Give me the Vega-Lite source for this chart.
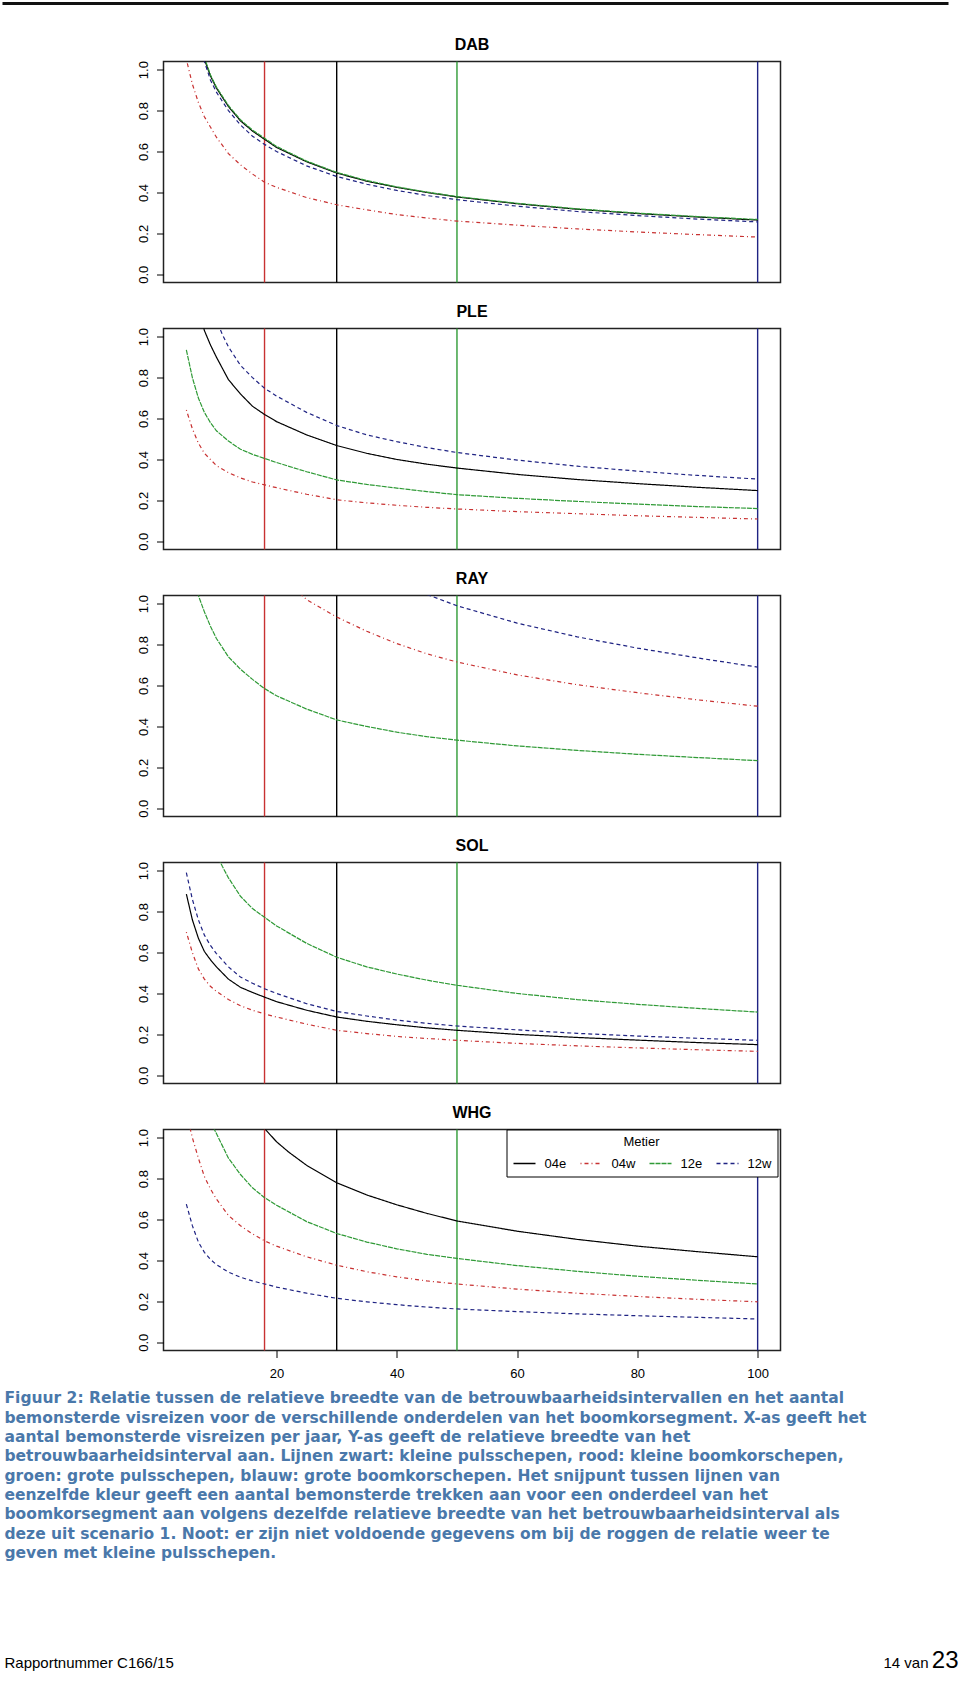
{
"$schema": "https://vega.github.io/schema/vega-lite/v6.json",
"padding": {"left": 0.5, "top": 1.5, "right": 0, "bottom": 2},
"background": "white",
"config": {
 "font": "Liberation Sans",
 "view": {"stroke": "#222", "strokeWidth": 1.5},
 "axis": {"grid": false, "domain": false, "tickColor": "#000", "tickSize": 7, "labelColor": "#000", "labelFontSize": 13, "labelFont": "Liberation Sans", "title": null},
 "title": {"fontSize": 16, "fontWeight": "bold", "font": "Liberation Sans", "color": "#000", "anchor": "middle", "frame": "group", "offset": 8, "baseline": "alphabetic"}
},
"datasets": {
 "vlines": [{"metier":"04e","n":30},{"metier":"04w","n":18},{"metier":"12e","n":50},{"metier":"12w","n":100}],
 "caption": [
  {"line":1,"text":"Figuur 2: Relatie tussen de relatieve breedte van de betrouwbaarheidsintervallen en het aantal"},
  {"line":2,"text":"bemonsterde visreizen voor de verschillende onderdelen van het boomkorsegment. X-as geeft het"},
  {"line":3,"text":"aantal bemonsterde visreizen per jaar, Y-as geeft de relatieve breedte van het"},
  {"line":4,"text":"betrouwbaarheidsinterval aan. Lijnen zwart: kleine pulsschepen, rood: kleine boomkorschepen,"},
  {"line":5,"text":"groen: grote pulsschepen, blauw: grote boomkorschepen. Het snijpunt tussen lijnen van"},
  {"line":6,"text":"eenzelfde kleur geeft een aantal bemonsterde trekken aan voor een onderdeel van het"},
  {"line":7,"text":"boomkorsegment aan volgens dezelfde relatieve breedte van het betrouwbaarheidsinterval als"},
  {"line":8,"text":"deze uit scenario 1. Noot: er zijn niet voldoende gegevens om bij de roggen de relatie weer te"},
  {"line":9,"text":"geven met kleine pulsschepen."}
 ],
 "footer": [{"part":"report","text":"Rapportnummer C166/15"},{"part":"page","text":"14 van"},{"part":"total","text":"23"}],
 "curves": [
  {"panel":"DAB","metier":"04e","n":7,"w":1.17},{"panel":"DAB","metier":"04e","n":8,"w":1.05},{"panel":"DAB","metier":"04e","n":9,"w":0.97},{"panel":"DAB","metier":"04e","n":10,"w":0.91},{"panel":"DAB","metier":"04e","n":12,"w":0.82},{"panel":"DAB","metier":"04e","n":14,"w":0.75},{"panel":"DAB","metier":"04e","n":16,"w":0.70},{"panel":"DAB","metier":"04e","n":18,"w":0.66},{"panel":"DAB","metier":"04e","n":20,"w":0.62},{"panel":"DAB","metier":"04e","n":25,"w":0.55},{"panel":"DAB","metier":"04e","n":30,"w":0.495},{"panel":"DAB","metier":"04e","n":35,"w":0.455},{"panel":"DAB","metier":"04e","n":40,"w":0.425},{"panel":"DAB","metier":"04e","n":45,"w":0.40},{"panel":"DAB","metier":"04e","n":50,"w":0.378},{"panel":"DAB","metier":"04e","n":60,"w":0.345},{"panel":"DAB","metier":"04e","n":70,"w":0.318},{"panel":"DAB","metier":"04e","n":80,"w":0.297},{"panel":"DAB","metier":"04e","n":90,"w":0.28},{"panel":"DAB","metier":"04e","n":100,"w":0.265},
  {"panel":"DAB","metier":"12e","n":7,"w":1.18},{"panel":"DAB","metier":"12e","n":8,"w":1.06},{"panel":"DAB","metier":"12e","n":9,"w":0.975},{"panel":"DAB","metier":"12e","n":10,"w":0.915},{"panel":"DAB","metier":"12e","n":12,"w":0.825},{"panel":"DAB","metier":"12e","n":14,"w":0.755},{"panel":"DAB","metier":"12e","n":16,"w":0.705},{"panel":"DAB","metier":"12e","n":18,"w":0.665},{"panel":"DAB","metier":"12e","n":20,"w":0.625},{"panel":"DAB","metier":"12e","n":25,"w":0.553},{"panel":"DAB","metier":"12e","n":30,"w":0.498},{"panel":"DAB","metier":"12e","n":35,"w":0.458},{"panel":"DAB","metier":"12e","n":40,"w":0.427},{"panel":"DAB","metier":"12e","n":45,"w":0.402},{"panel":"DAB","metier":"12e","n":50,"w":0.38},{"panel":"DAB","metier":"12e","n":60,"w":0.347},{"panel":"DAB","metier":"12e","n":70,"w":0.32},{"panel":"DAB","metier":"12e","n":80,"w":0.299},{"panel":"DAB","metier":"12e","n":90,"w":0.282},{"panel":"DAB","metier":"12e","n":100,"w":0.268},
  {"panel":"DAB","metier":"12w","n":7,"w":1.15},{"panel":"DAB","metier":"12w","n":8,"w":1.04},{"panel":"DAB","metier":"12w","n":9,"w":0.95},{"panel":"DAB","metier":"12w","n":10,"w":0.89},{"panel":"DAB","metier":"12w","n":12,"w":0.80},{"panel":"DAB","metier":"12w","n":14,"w":0.73},{"panel":"DAB","metier":"12w","n":16,"w":0.675},{"panel":"DAB","metier":"12w","n":18,"w":0.635},{"panel":"DAB","metier":"12w","n":20,"w":0.60},{"panel":"DAB","metier":"12w","n":25,"w":0.53},{"panel":"DAB","metier":"12w","n":30,"w":0.478},{"panel":"DAB","metier":"12w","n":35,"w":0.44},{"panel":"DAB","metier":"12w","n":40,"w":0.41},{"panel":"DAB","metier":"12w","n":45,"w":0.385},{"panel":"DAB","metier":"12w","n":50,"w":0.365},{"panel":"DAB","metier":"12w","n":60,"w":0.333},{"panel":"DAB","metier":"12w","n":70,"w":0.307},{"panel":"DAB","metier":"12w","n":80,"w":0.287},{"panel":"DAB","metier":"12w","n":90,"w":0.27},{"panel":"DAB","metier":"12w","n":100,"w":0.256},
  {"panel":"DAB","metier":"04w","n":5,"w":1.05},{"panel":"DAB","metier":"04w","n":6,"w":0.93},{"panel":"DAB","metier":"04w","n":7,"w":0.84},{"panel":"DAB","metier":"04w","n":8,"w":0.77},{"panel":"DAB","metier":"04w","n":9,"w":0.72},{"panel":"DAB","metier":"04w","n":10,"w":0.67},{"panel":"DAB","metier":"04w","n":12,"w":0.59},{"panel":"DAB","metier":"04w","n":14,"w":0.535},{"panel":"DAB","metier":"04w","n":16,"w":0.49},{"panel":"DAB","metier":"04w","n":18,"w":0.45},{"panel":"DAB","metier":"04w","n":20,"w":0.425},{"panel":"DAB","metier":"04w","n":25,"w":0.375},{"panel":"DAB","metier":"04w","n":30,"w":0.34},{"panel":"DAB","metier":"04w","n":35,"w":0.315},{"panel":"DAB","metier":"04w","n":40,"w":0.292},{"panel":"DAB","metier":"04w","n":45,"w":0.275},{"panel":"DAB","metier":"04w","n":50,"w":0.26},{"panel":"DAB","metier":"04w","n":60,"w":0.24},{"panel":"DAB","metier":"04w","n":70,"w":0.222},{"panel":"DAB","metier":"04w","n":80,"w":0.207},{"panel":"DAB","metier":"04w","n":90,"w":0.194},{"panel":"DAB","metier":"04w","n":100,"w":0.182},

  {"panel":"PLE","metier":"04e","n":7,"w":1.15},{"panel":"PLE","metier":"04e","n":8,"w":1.03},{"panel":"PLE","metier":"04e","n":9,"w":0.96},{"panel":"PLE","metier":"04e","n":10,"w":0.90},{"panel":"PLE","metier":"04e","n":12,"w":0.79},{"panel":"PLE","metier":"04e","n":14,"w":0.72},{"panel":"PLE","metier":"04e","n":16,"w":0.66},{"panel":"PLE","metier":"04e","n":18,"w":0.62},{"panel":"PLE","metier":"04e","n":20,"w":0.585},{"panel":"PLE","metier":"04e","n":25,"w":0.52},{"panel":"PLE","metier":"04e","n":30,"w":0.468},{"panel":"PLE","metier":"04e","n":35,"w":0.43},{"panel":"PLE","metier":"04e","n":40,"w":0.40},{"panel":"PLE","metier":"04e","n":45,"w":0.377},{"panel":"PLE","metier":"04e","n":50,"w":0.358},{"panel":"PLE","metier":"04e","n":60,"w":0.327},{"panel":"PLE","metier":"04e","n":70,"w":0.302},{"panel":"PLE","metier":"04e","n":80,"w":0.282},{"panel":"PLE","metier":"04e","n":90,"w":0.264},{"panel":"PLE","metier":"04e","n":100,"w":0.248},
  {"panel":"PLE","metier":"12w","n":9,"w":1.16},{"panel":"PLE","metier":"12w","n":10,"w":1.08},{"panel":"PLE","metier":"12w","n":11,"w":1.01},{"panel":"PLE","metier":"12w","n":12,"w":0.95},{"panel":"PLE","metier":"12w","n":14,"w":0.86},{"panel":"PLE","metier":"12w","n":16,"w":0.80},{"panel":"PLE","metier":"12w","n":18,"w":0.748},{"panel":"PLE","metier":"12w","n":20,"w":0.71},{"panel":"PLE","metier":"12w","n":25,"w":0.63},{"panel":"PLE","metier":"12w","n":30,"w":0.566},{"panel":"PLE","metier":"12w","n":35,"w":0.52},{"panel":"PLE","metier":"12w","n":40,"w":0.487},{"panel":"PLE","metier":"12w","n":45,"w":0.458},{"panel":"PLE","metier":"12w","n":50,"w":0.434},{"panel":"PLE","metier":"12w","n":60,"w":0.397},{"panel":"PLE","metier":"12w","n":70,"w":0.367},{"panel":"PLE","metier":"12w","n":80,"w":0.343},{"panel":"PLE","metier":"12w","n":90,"w":0.322},{"panel":"PLE","metier":"12w","n":100,"w":0.304},
  {"panel":"PLE","metier":"12e","n":5,"w":0.935},{"panel":"PLE","metier":"12e","n":6,"w":0.80},{"panel":"PLE","metier":"12e","n":7,"w":0.70},{"panel":"PLE","metier":"12e","n":8,"w":0.63},{"panel":"PLE","metier":"12e","n":9,"w":0.58},{"panel":"PLE","metier":"12e","n":10,"w":0.54},{"panel":"PLE","metier":"12e","n":12,"w":0.49},{"panel":"PLE","metier":"12e","n":14,"w":0.45},{"panel":"PLE","metier":"12e","n":16,"w":0.425},{"panel":"PLE","metier":"12e","n":18,"w":0.405},{"panel":"PLE","metier":"12e","n":20,"w":0.385},{"panel":"PLE","metier":"12e","n":25,"w":0.34},{"panel":"PLE","metier":"12e","n":30,"w":0.30},{"panel":"PLE","metier":"12e","n":35,"w":0.278},{"panel":"PLE","metier":"12e","n":40,"w":0.26},{"panel":"PLE","metier":"12e","n":45,"w":0.243},{"panel":"PLE","metier":"12e","n":50,"w":0.228},{"panel":"PLE","metier":"12e","n":60,"w":0.21},{"panel":"PLE","metier":"12e","n":70,"w":0.195},{"panel":"PLE","metier":"12e","n":80,"w":0.182},{"panel":"PLE","metier":"12e","n":90,"w":0.17},{"panel":"PLE","metier":"12e","n":100,"w":0.16},
  {"panel":"PLE","metier":"04w","n":5,"w":0.642},{"panel":"PLE","metier":"04w","n":6,"w":0.55},{"panel":"PLE","metier":"04w","n":7,"w":0.48},{"panel":"PLE","metier":"04w","n":8,"w":0.43},{"panel":"PLE","metier":"04w","n":9,"w":0.40},{"panel":"PLE","metier":"04w","n":10,"w":0.37},{"panel":"PLE","metier":"04w","n":12,"w":0.335},{"panel":"PLE","metier":"04w","n":14,"w":0.31},{"panel":"PLE","metier":"04w","n":16,"w":0.29},{"panel":"PLE","metier":"04w","n":18,"w":0.276},{"panel":"PLE","metier":"04w","n":20,"w":0.262},{"panel":"PLE","metier":"04w","n":25,"w":0.23},{"panel":"PLE","metier":"04w","n":30,"w":0.203},{"panel":"PLE","metier":"04w","n":35,"w":0.188},{"panel":"PLE","metier":"04w","n":40,"w":0.176},{"panel":"PLE","metier":"04w","n":45,"w":0.166},{"panel":"PLE","metier":"04w","n":50,"w":0.158},{"panel":"PLE","metier":"04w","n":60,"w":0.145},{"panel":"PLE","metier":"04w","n":70,"w":0.135},{"panel":"PLE","metier":"04w","n":80,"w":0.125},{"panel":"PLE","metier":"04w","n":90,"w":0.117},{"panel":"PLE","metier":"04w","n":100,"w":0.109},

  {"panel":"RAY","metier":"12e","n":6,"w":1.14},{"panel":"RAY","metier":"12e","n":7,"w":1.04},{"panel":"RAY","metier":"12e","n":8,"w":0.96},{"panel":"RAY","metier":"12e","n":9,"w":0.89},{"panel":"RAY","metier":"12e","n":10,"w":0.83},{"panel":"RAY","metier":"12e","n":12,"w":0.74},{"panel":"RAY","metier":"12e","n":14,"w":0.68},{"panel":"RAY","metier":"12e","n":16,"w":0.63},{"panel":"RAY","metier":"12e","n":18,"w":0.585},{"panel":"RAY","metier":"12e","n":20,"w":0.55},{"panel":"RAY","metier":"12e","n":25,"w":0.485},{"panel":"RAY","metier":"12e","n":30,"w":0.432},{"panel":"RAY","metier":"12e","n":35,"w":0.40},{"panel":"RAY","metier":"12e","n":40,"w":0.372},{"panel":"RAY","metier":"12e","n":45,"w":0.35},{"panel":"RAY","metier":"12e","n":50,"w":0.333},{"panel":"RAY","metier":"12e","n":60,"w":0.305},{"panel":"RAY","metier":"12e","n":70,"w":0.283},{"panel":"RAY","metier":"12e","n":80,"w":0.264},{"panel":"RAY","metier":"12e","n":90,"w":0.248},{"panel":"RAY","metier":"12e","n":100,"w":0.233},
  {"panel":"RAY","metier":"04w","n":22,"w":1.10},{"panel":"RAY","metier":"04w","n":25,"w":1.02},{"panel":"RAY","metier":"04w","n":30,"w":0.935},{"panel":"RAY","metier":"04w","n":35,"w":0.865},{"panel":"RAY","metier":"04w","n":40,"w":0.805},{"panel":"RAY","metier":"04w","n":45,"w":0.755},{"panel":"RAY","metier":"04w","n":50,"w":0.715},{"panel":"RAY","metier":"04w","n":60,"w":0.652},{"panel":"RAY","metier":"04w","n":70,"w":0.604},{"panel":"RAY","metier":"04w","n":80,"w":0.565},{"panel":"RAY","metier":"04w","n":90,"w":0.53},{"panel":"RAY","metier":"04w","n":100,"w":0.499},
  {"panel":"RAY","metier":"12w","n":44,"w":1.06},{"panel":"RAY","metier":"12w","n":45,"w":1.045},{"panel":"RAY","metier":"12w","n":50,"w":0.99},{"panel":"RAY","metier":"12w","n":60,"w":0.905},{"panel":"RAY","metier":"12w","n":70,"w":0.838},{"panel":"RAY","metier":"12w","n":80,"w":0.783},{"panel":"RAY","metier":"12w","n":90,"w":0.735},{"panel":"RAY","metier":"12w","n":100,"w":0.69},

  {"panel":"SOL","metier":"12e","n":9,"w":1.17},{"panel":"SOL","metier":"12e","n":10,"w":1.08},{"panel":"SOL","metier":"12e","n":11,"w":1.02},{"panel":"SOL","metier":"12e","n":12,"w":0.965},{"panel":"SOL","metier":"12e","n":14,"w":0.875},{"panel":"SOL","metier":"12e","n":16,"w":0.815},{"panel":"SOL","metier":"12e","n":18,"w":0.772},{"panel":"SOL","metier":"12e","n":20,"w":0.73},{"panel":"SOL","metier":"12e","n":25,"w":0.645},{"panel":"SOL","metier":"12e","n":30,"w":0.577},{"panel":"SOL","metier":"12e","n":35,"w":0.53},{"panel":"SOL","metier":"12e","n":40,"w":0.495},{"panel":"SOL","metier":"12e","n":45,"w":0.465},{"panel":"SOL","metier":"12e","n":50,"w":0.44},{"panel":"SOL","metier":"12e","n":60,"w":0.40},{"panel":"SOL","metier":"12e","n":70,"w":0.37},{"panel":"SOL","metier":"12e","n":80,"w":0.347},{"panel":"SOL","metier":"12e","n":90,"w":0.327},{"panel":"SOL","metier":"12e","n":100,"w":0.309},
  {"panel":"SOL","metier":"12w","n":5,"w":0.99},{"panel":"SOL","metier":"12w","n":6,"w":0.86},{"panel":"SOL","metier":"12w","n":7,"w":0.76},{"panel":"SOL","metier":"12w","n":8,"w":0.685},{"panel":"SOL","metier":"12w","n":9,"w":0.635},{"panel":"SOL","metier":"12w","n":10,"w":0.595},{"panel":"SOL","metier":"12w","n":12,"w":0.53},{"panel":"SOL","metier":"12w","n":14,"w":0.48},{"panel":"SOL","metier":"12w","n":16,"w":0.45},{"panel":"SOL","metier":"12w","n":18,"w":0.423},{"panel":"SOL","metier":"12w","n":20,"w":0.40},{"panel":"SOL","metier":"12w","n":25,"w":0.35},{"panel":"SOL","metier":"12w","n":30,"w":0.312},{"panel":"SOL","metier":"12w","n":35,"w":0.29},{"panel":"SOL","metier":"12w","n":40,"w":0.27},{"panel":"SOL","metier":"12w","n":45,"w":0.254},{"panel":"SOL","metier":"12w","n":50,"w":0.241},{"panel":"SOL","metier":"12w","n":60,"w":0.222},{"panel":"SOL","metier":"12w","n":70,"w":0.205},{"panel":"SOL","metier":"12w","n":80,"w":0.192},{"panel":"SOL","metier":"12w","n":90,"w":0.181},{"panel":"SOL","metier":"12w","n":100,"w":0.171},
  {"panel":"SOL","metier":"04e","n":5,"w":0.886},{"panel":"SOL","metier":"04e","n":6,"w":0.76},{"panel":"SOL","metier":"04e","n":7,"w":0.67},{"panel":"SOL","metier":"04e","n":8,"w":0.605},{"panel":"SOL","metier":"04e","n":9,"w":0.565},{"panel":"SOL","metier":"04e","n":10,"w":0.53},{"panel":"SOL","metier":"04e","n":12,"w":0.47},{"panel":"SOL","metier":"04e","n":14,"w":0.43},{"panel":"SOL","metier":"04e","n":16,"w":0.405},{"panel":"SOL","metier":"04e","n":18,"w":0.382},{"panel":"SOL","metier":"04e","n":20,"w":0.36},{"panel":"SOL","metier":"04e","n":25,"w":0.318},{"panel":"SOL","metier":"04e","n":30,"w":0.285},{"panel":"SOL","metier":"04e","n":35,"w":0.264},{"panel":"SOL","metier":"04e","n":40,"w":0.247},{"panel":"SOL","metier":"04e","n":45,"w":0.232},{"panel":"SOL","metier":"04e","n":50,"w":0.22},{"panel":"SOL","metier":"04e","n":60,"w":0.20},{"panel":"SOL","metier":"04e","n":70,"w":0.185},{"panel":"SOL","metier":"04e","n":80,"w":0.172},{"panel":"SOL","metier":"04e","n":90,"w":0.16},{"panel":"SOL","metier":"04e","n":100,"w":0.15},
  {"panel":"SOL","metier":"04w","n":5,"w":0.70},{"panel":"SOL","metier":"04w","n":6,"w":0.60},{"panel":"SOL","metier":"04w","n":7,"w":0.52},{"panel":"SOL","metier":"04w","n":8,"w":0.47},{"panel":"SOL","metier":"04w","n":9,"w":0.435},{"panel":"SOL","metier":"04w","n":10,"w":0.41},{"panel":"SOL","metier":"04w","n":12,"w":0.37},{"panel":"SOL","metier":"04w","n":14,"w":0.34},{"panel":"SOL","metier":"04w","n":16,"w":0.318},{"panel":"SOL","metier":"04w","n":18,"w":0.30},{"panel":"SOL","metier":"04w","n":20,"w":0.285},{"panel":"SOL","metier":"04w","n":25,"w":0.25},{"panel":"SOL","metier":"04w","n":30,"w":0.22},{"panel":"SOL","metier":"04w","n":35,"w":0.204},{"panel":"SOL","metier":"04w","n":40,"w":0.19},{"panel":"SOL","metier":"04w","n":45,"w":0.18},{"panel":"SOL","metier":"04w","n":50,"w":0.171},{"panel":"SOL","metier":"04w","n":60,"w":0.156},{"panel":"SOL","metier":"04w","n":70,"w":0.144},{"panel":"SOL","metier":"04w","n":80,"w":0.134},{"panel":"SOL","metier":"04w","n":90,"w":0.125},{"panel":"SOL","metier":"04w","n":100,"w":0.117},

  {"panel":"WHG","metier":"04e","n":16,"w":1.13},{"panel":"WHG","metier":"04e","n":18,"w":1.045},{"panel":"WHG","metier":"04e","n":20,"w":0.98},{"panel":"WHG","metier":"04e","n":22,"w":0.93},{"panel":"WHG","metier":"04e","n":25,"w":0.865},{"panel":"WHG","metier":"04e","n":30,"w":0.78},{"panel":"WHG","metier":"04e","n":35,"w":0.72},{"panel":"WHG","metier":"04e","n":40,"w":0.672},{"panel":"WHG","metier":"04e","n":45,"w":0.63},{"panel":"WHG","metier":"04e","n":50,"w":0.593},{"panel":"WHG","metier":"04e","n":60,"w":0.543},{"panel":"WHG","metier":"04e","n":70,"w":0.503},{"panel":"WHG","metier":"04e","n":80,"w":0.47},{"panel":"WHG","metier":"04e","n":90,"w":0.443},{"panel":"WHG","metier":"04e","n":100,"w":0.418},
  {"panel":"WHG","metier":"12e","n":8,"w":1.16},{"panel":"WHG","metier":"12e","n":9,"w":1.08},{"panel":"WHG","metier":"12e","n":10,"w":1.02},{"panel":"WHG","metier":"12e","n":12,"w":0.90},{"panel":"WHG","metier":"12e","n":14,"w":0.82},{"panel":"WHG","metier":"12e","n":16,"w":0.755},{"panel":"WHG","metier":"12e","n":18,"w":0.707},{"panel":"WHG","metier":"12e","n":20,"w":0.67},{"panel":"WHG","metier":"12e","n":25,"w":0.59},{"panel":"WHG","metier":"12e","n":30,"w":0.532},{"panel":"WHG","metier":"12e","n":35,"w":0.49},{"panel":"WHG","metier":"12e","n":40,"w":0.457},{"panel":"WHG","metier":"12e","n":45,"w":0.43},{"panel":"WHG","metier":"12e","n":50,"w":0.41},{"panel":"WHG","metier":"12e","n":60,"w":0.375},{"panel":"WHG","metier":"12e","n":70,"w":0.347},{"panel":"WHG","metier":"12e","n":80,"w":0.323},{"panel":"WHG","metier":"12e","n":90,"w":0.303},{"panel":"WHG","metier":"12e","n":100,"w":0.285},
  {"panel":"WHG","metier":"04w","n":5,"w":1.12},{"panel":"WHG","metier":"04w","n":6,"w":1.0},{"panel":"WHG","metier":"04w","n":7,"w":0.90},{"panel":"WHG","metier":"04w","n":8,"w":0.81},{"panel":"WHG","metier":"04w","n":9,"w":0.75},{"panel":"WHG","metier":"04w","n":10,"w":0.70},{"panel":"WHG","metier":"04w","n":12,"w":0.62},{"panel":"WHG","metier":"04w","n":14,"w":0.57},{"panel":"WHG","metier":"04w","n":16,"w":0.53},{"panel":"WHG","metier":"04w","n":18,"w":0.496},{"panel":"WHG","metier":"04w","n":20,"w":0.47},{"panel":"WHG","metier":"04w","n":25,"w":0.418},{"panel":"WHG","metier":"04w","n":30,"w":0.377},{"panel":"WHG","metier":"04w","n":35,"w":0.345},{"panel":"WHG","metier":"04w","n":40,"w":0.32},{"panel":"WHG","metier":"04w","n":45,"w":0.30},{"panel":"WHG","metier":"04w","n":50,"w":0.285},{"panel":"WHG","metier":"04w","n":60,"w":0.26},{"panel":"WHG","metier":"04w","n":70,"w":0.24},{"panel":"WHG","metier":"04w","n":80,"w":0.224},{"panel":"WHG","metier":"04w","n":90,"w":0.21},{"panel":"WHG","metier":"04w","n":100,"w":0.198},
  {"panel":"WHG","metier":"12w","n":5,"w":0.675},{"panel":"WHG","metier":"12w","n":6,"w":0.57},{"panel":"WHG","metier":"12w","n":7,"w":0.49},{"panel":"WHG","metier":"12w","n":8,"w":0.44},{"panel":"WHG","metier":"12w","n":9,"w":0.405},{"panel":"WHG","metier":"12w","n":10,"w":0.38},{"panel":"WHG","metier":"12w","n":12,"w":0.343},{"panel":"WHG","metier":"12w","n":14,"w":0.318},{"panel":"WHG","metier":"12w","n":16,"w":0.30},{"panel":"WHG","metier":"12w","n":18,"w":0.285},{"panel":"WHG","metier":"12w","n":20,"w":0.27},{"panel":"WHG","metier":"12w","n":25,"w":0.24},{"panel":"WHG","metier":"12w","n":30,"w":0.215},{"panel":"WHG","metier":"12w","n":35,"w":0.198},{"panel":"WHG","metier":"12w","n":40,"w":0.184},{"panel":"WHG","metier":"12w","n":45,"w":0.172},{"panel":"WHG","metier":"12w","n":50,"w":0.163},{"panel":"WHG","metier":"12w","n":60,"w":0.15},{"panel":"WHG","metier":"12w","n":70,"w":0.139},{"panel":"WHG","metier":"12w","n":80,"w":0.13},{"panel":"WHG","metier":"12w","n":90,"w":0.122},{"panel":"WHG","metier":"12w","n":100,"w":0.114}
 ]
},
"spacing": 46,
"bounds": "flush",
"center": true,
"resolve": {"scale": {"color": "independent", "strokeDash": "independent"}},
"vconcat": [
 {
  "width": 941, "height": 12, "view": {"stroke": null},
  "data": {"values": [{"part": "header"}]},
  "mark": {"type": "rule", "strokeWidth": 3, "color": "#111"},
  "encoding": {
   "x": {"datum": 0, "type": "quantitative", "scale": {"domain": [0, 1], "range": [1, 947], "nice": false, "zero": false}, "axis": null},
   "x2": {"datum": 1},
   "y": {"datum": 1, "type": "quantitative", "scale": {"domain": [0, 1], "nice": false, "zero": false}, "axis": null}
  }
 },
 {
  "width": 617, "height": 221, "title": {"text": "DAB"},
  "layer": [
   {"data": {"name": "vlines"}, "mark": {"type": "rule", "strokeWidth": 1.4},
    "encoding": {"x": {"field": "n", "type": "quantitative", "scale": {"domain": [1.2, 103.8], "nice": false, "zero": false}, "axis": null},
     "color": {"field": "metier", "type": "nominal", "scale": {"domain": ["04e","04w","12e","12w"], "range": ["#000000","#c83232","#2f9a36","#1f2383"]}, "legend": null}}},
   {"data": {"name": "curves"}, "transform": [{"filter": "datum.panel === 'DAB'"}], "mark": {"type": "line", "strokeWidth": 1.2, "clip": true},
    "encoding": {"x": {"field": "n", "type": "quantitative", "axis": null},
     "y": {"field": "w", "type": "quantitative", "scale": {"domain": [-0.04, 1.04], "nice": false, "zero": false}, "axis": {"values": [0,0.2,0.4,0.6,0.8,1], "format": ".1f", "labelAngle": -90, "labelAlign": "center", "labelBaseline": "alphabetic", "labelPadding": 9}},
     "color": {"field": "metier", "type": "nominal", "legend": null},
     "strokeDash": {"field": "metier", "type": "nominal", "scale": {"domain": ["04e","04w","12e","12w"], "range": [[1,0],[1,3,4,3],[5,1],[4,3]]}, "legend": null}}}
  ]
 },
 {
  "width": 617, "height": 221, "title": {"text": "PLE"},
  "layer": [
   {"data": {"name": "vlines"}, "mark": {"type": "rule", "strokeWidth": 1.4},
    "encoding": {"x": {"field": "n", "type": "quantitative", "scale": {"domain": [1.2, 103.8], "nice": false, "zero": false}, "axis": null},
     "color": {"field": "metier", "type": "nominal", "scale": {"domain": ["04e","04w","12e","12w"], "range": ["#000000","#c83232","#2f9a36","#1f2383"]}, "legend": null}}},
   {"data": {"name": "curves"}, "transform": [{"filter": "datum.panel === 'PLE'"}], "mark": {"type": "line", "strokeWidth": 1.2, "clip": true},
    "encoding": {"x": {"field": "n", "type": "quantitative", "axis": null},
     "y": {"field": "w", "type": "quantitative", "scale": {"domain": [-0.04, 1.04], "nice": false, "zero": false}, "axis": {"values": [0,0.2,0.4,0.6,0.8,1], "format": ".1f", "labelAngle": -90, "labelAlign": "center", "labelBaseline": "alphabetic", "labelPadding": 9}},
     "color": {"field": "metier", "type": "nominal", "legend": null},
     "strokeDash": {"field": "metier", "type": "nominal", "scale": {"domain": ["04e","04w","12e","12w"], "range": [[1,0],[1,3,4,3],[5,1],[4,3]]}, "legend": null}}}
  ]
 },
 {
  "width": 617, "height": 221, "title": {"text": "RAY"},
  "layer": [
   {"data": {"name": "vlines"}, "mark": {"type": "rule", "strokeWidth": 1.4},
    "encoding": {"x": {"field": "n", "type": "quantitative", "scale": {"domain": [1.2, 103.8], "nice": false, "zero": false}, "axis": null},
     "color": {"field": "metier", "type": "nominal", "scale": {"domain": ["04e","04w","12e","12w"], "range": ["#000000","#c83232","#2f9a36","#1f2383"]}, "legend": null}}},
   {"data": {"name": "curves"}, "transform": [{"filter": "datum.panel === 'RAY'"}], "mark": {"type": "line", "strokeWidth": 1.2, "clip": true},
    "encoding": {"x": {"field": "n", "type": "quantitative", "axis": null},
     "y": {"field": "w", "type": "quantitative", "scale": {"domain": [-0.04, 1.04], "nice": false, "zero": false}, "axis": {"values": [0,0.2,0.4,0.6,0.8,1], "format": ".1f", "labelAngle": -90, "labelAlign": "center", "labelBaseline": "alphabetic", "labelPadding": 9}},
     "color": {"field": "metier", "type": "nominal", "legend": null},
     "strokeDash": {"field": "metier", "type": "nominal", "scale": {"domain": ["04e","04w","12e","12w"], "range": [[1,0],[1,3,4,3],[5,1],[4,3]]}, "legend": null}}}
  ]
 },
 {
  "width": 617, "height": 221, "title": {"text": "SOL"},
  "layer": [
   {"data": {"name": "vlines"}, "mark": {"type": "rule", "strokeWidth": 1.4},
    "encoding": {"x": {"field": "n", "type": "quantitative", "scale": {"domain": [1.2, 103.8], "nice": false, "zero": false}, "axis": null},
     "color": {"field": "metier", "type": "nominal", "scale": {"domain": ["04e","04w","12e","12w"], "range": ["#000000","#c83232","#2f9a36","#1f2383"]}, "legend": null}}},
   {"data": {"name": "curves"}, "transform": [{"filter": "datum.panel === 'SOL'"}], "mark": {"type": "line", "strokeWidth": 1.2, "clip": true},
    "encoding": {"x": {"field": "n", "type": "quantitative", "axis": null},
     "y": {"field": "w", "type": "quantitative", "scale": {"domain": [-0.04, 1.04], "nice": false, "zero": false}, "axis": {"values": [0,0.2,0.4,0.6,0.8,1], "format": ".1f", "labelAngle": -90, "labelAlign": "center", "labelBaseline": "alphabetic", "labelPadding": 9}},
     "color": {"field": "metier", "type": "nominal", "legend": null},
     "strokeDash": {"field": "metier", "type": "nominal", "scale": {"domain": ["04e","04w","12e","12w"], "range": [[1,0],[1,3,4,3],[5,1],[4,3]]}, "legend": null}}}
  ]
 },
 {
  "width": 617, "height": 221, "title": {"text": "WHG"},
  "layer": [
   {"data": {"name": "vlines"}, "mark": {"type": "rule", "strokeWidth": 1.4},
    "encoding": {"x": {"field": "n", "type": "quantitative", "scale": {"domain": [1.2, 103.8], "nice": false, "zero": false}, "axis": {"values": [20,40,60,80,100], "labelPadding": 10}},
     "color": {"field": "metier", "type": "nominal", "scale": {"domain": ["04e","04w","12e","12w"], "range": ["#000000","#c83232","#2f9a36","#1f2383"]}, "legend": {"orient": "none", "legendX": 343, "legendY": 0, "direction": "horizontal", "columns": 4, "title": "Metier", "titleAnchor": "middle", "titleFontSize": 13, "titleFontWeight": "normal", "titleFont": "Liberation Sans", "titleColor": "#000", "titlePadding": 3, "labelFontSize": 13, "labelFont": "Liberation Sans", "labelColor": "#000", "labelOffset": 8, "columnPadding": 11, "symbolType": "stroke", "symbolSize": 484, "symbolStrokeWidth": 1.3, "strokeColor": "#000", "fillColor": "#fff", "padding": 6}}}},
   {"data": {"name": "curves"}, "transform": [{"filter": "datum.panel === 'WHG'"}], "mark": {"type": "line", "strokeWidth": 1.2, "clip": true},
    "encoding": {"x": {"field": "n", "type": "quantitative", "axis": {"values": [20,40,60,80,100], "labelPadding": 10}},
     "y": {"field": "w", "type": "quantitative", "scale": {"domain": [-0.04, 1.04], "nice": false, "zero": false}, "axis": {"values": [0,0.2,0.4,0.6,0.8,1], "format": ".1f", "labelAngle": -90, "labelAlign": "center", "labelBaseline": "alphabetic", "labelPadding": 9}},
     "color": {"field": "metier", "type": "nominal", "legend": {"orient": "none", "legendX": 343, "legendY": 0, "direction": "horizontal", "columns": 4, "title": "Metier", "titleAnchor": "middle", "titleFontSize": 13, "titleFontWeight": "normal", "titleFont": "Liberation Sans", "titleColor": "#000", "titlePadding": 3, "labelFontSize": 13, "labelFont": "Liberation Sans", "labelColor": "#000", "labelOffset": 8, "columnPadding": 11, "symbolType": "stroke", "symbolSize": 484, "symbolStrokeWidth": 1.3, "strokeColor": "#000", "fillColor": "#fff", "padding": 6}},
     "strokeDash": {"field": "metier", "type": "nominal", "scale": {"domain": ["04e","04w","12e","12w"], "range": [[1,0],[1,3,4,3],[5,1],[4,3]]}, "legend": {"orient": "none", "legendX": 343, "legendY": 0, "direction": "horizontal", "columns": 4, "title": "Metier", "titleAnchor": "middle", "titleFontSize": 13, "titleFontWeight": "normal", "titleFont": "Liberation Sans", "titleColor": "#000", "titlePadding": 3, "labelFontSize": 13, "labelFont": "Liberation Sans", "labelColor": "#000", "labelOffset": 8, "columnPadding": 11, "symbolType": "stroke", "symbolSize": 484, "symbolStrokeWidth": 1.3, "strokeColor": "#000", "fillColor": "#fff", "padding": 6}}}}
  ]
 },
 {
  "width": 935, "height": 158.5, "view": {"stroke": null},
  "data": {"name": "caption"},
  "mark": {"type": "text", "align": "left", "baseline": "middle", "font": "DejaVu Sans", "fontWeight": "bold", "fontSize": 15.5, "color": "#4a78aa"},
  "encoding": {
   "x": {"datum": 0, "type": "quantitative", "scale": {"domain": [0, 1], "nice": false, "zero": false}, "axis": null},
   "y": {"field": "line", "type": "ordinal", "scale": {"type": "point", "padding": 0.1}, "axis": null},
   "text": {"field": "text"}
  }
 },
 {
  "width": 935, "height": 66.5, "view": {"stroke": null},
  "data": {"name": "footer"},
  "layer": [
   {"transform": [{"filter": "datum.part === 'report'"}],
    "mark": {"type": "text", "align": "left", "baseline": "alphabetic", "font": "Liberation Sans", "fontSize": 15, "color": "#000"},
    "encoding": {"x": {"datum": 0, "type": "quantitative", "scale": {"domain": [0, 1], "range": [0, 954], "nice": false, "zero": false}, "axis": null},
     "y": {"datum": 0, "type": "quantitative", "scale": {"domain": [0, 1], "nice": false, "zero": false}, "axis": null},
     "text": {"field": "text"}}},
   {"transform": [{"filter": "datum.part === 'page'"}],
    "mark": {"type": "text", "align": "right", "baseline": "alphabetic", "font": "Liberation Sans", "fontSize": 15, "color": "#000"},
    "encoding": {"x": {"datum": 0.9686, "type": "quantitative"}, "y": {"datum": 0, "type": "quantitative"}, "text": {"field": "text"}}},
   {"transform": [{"filter": "datum.part === 'total'"}],
    "mark": {"type": "text", "align": "right", "baseline": "alphabetic", "font": "Liberation Sans", "fontSize": 24, "color": "#000"},
    "encoding": {"x": {"datum": 1, "type": "quantitative"}, "y": {"datum": 0, "type": "quantitative"}, "text": {"field": "text"}}}
  ]
 }
]
}
